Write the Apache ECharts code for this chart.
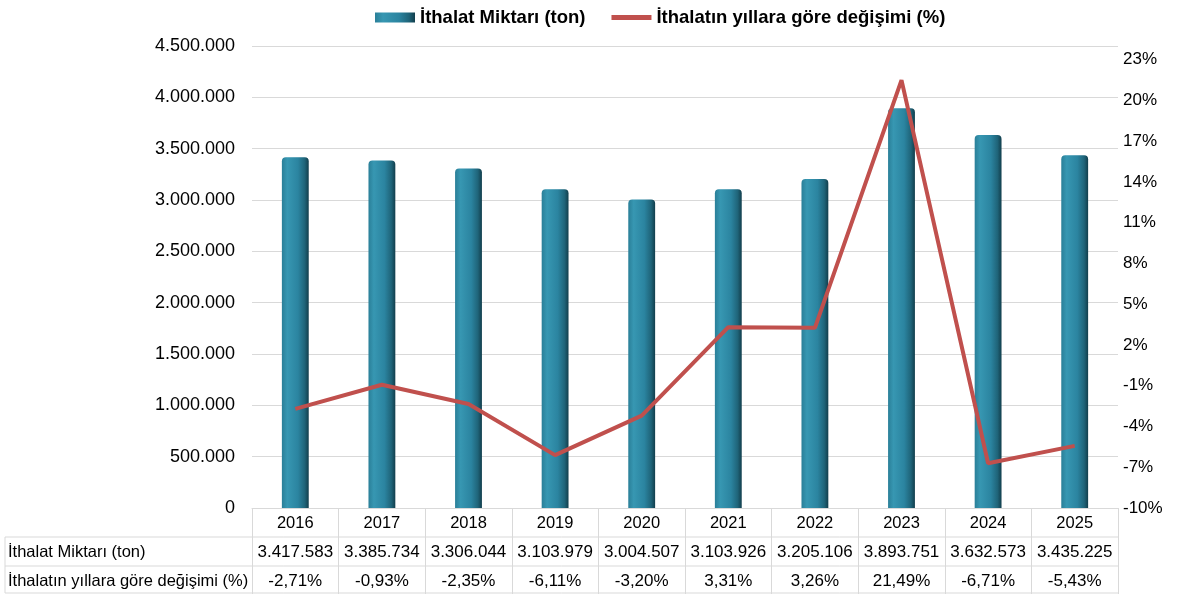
<!DOCTYPE html>
<html lang="tr">
<head>
    <meta charset="UTF-8">
    <title>İthalat</title>
    <style>
        html, body { margin: 0; padding: 0; background: #fff; }
        #main { width: 1191px; height: 594px; }
    </style>
</head>
<body>
<div id="main"></div>
<script src="https://cdn.jsdelivr.net/npm/echarts@6/dist/echarts.min.js"></script>
<script>
    // veriler
    var years = ['2016', '2017', '2018', '2019', '2020', '2021', '2022', '2023', '2024', '2025'];
    var amounts = [3417583, 3385734, 3306044, 3103979, 3004507, 3103926, 3205106, 3893751, 3632573, 3435225];
    var changes = [-2.71, -0.93, -2.35, -6.11, -3.20, 3.31, 3.26, 21.49, -6.71, -5.43];

    var barName = 'İthalat Miktarı (ton)';
    var lineName = 'İthalatın yıllara göre değişimi (%)';

    var FONT = 'Liberation Sans';
    var lineCol = '#d9d9d9';

    function dots(n) {
        return String(n).replace(/\B(?=(\d{3})+(?!\d))/g, '.');
    }
    function pct(n) {
        return n.toFixed(2).replace('.', ',') + '%';
    }

    var chart = echarts.init(document.getElementById('main'));

    var barColor = new echarts.graphic.LinearGradient(0, 0, 1, 0, [
        { offset: 0, color: '#2a7f98' },
        { offset: 0.2, color: '#3797b2' },
        { offset: 0.6, color: '#2b84a0' },
        { offset: 0.85, color: '#1f6479' },
        { offset: 1, color: '#123e4c' }
    ]);

    var option = {
        textStyle: { fontFamily: FONT },
        animation: false,
        legend: {
            top: 3,
            left: 370,
            itemWidth: 40,
            itemHeight: 10,
            itemGap: 26,
            textStyle: { fontFamily: FONT, fontSize: 18.5, fontWeight: 'bold', color: '#000' },
            data: [
                { name: barName, icon: 'rect' },
                { name: lineName, icon: 'path://M0,0 L40,0 L40,5 L0,5 Z' }
            ]
        },
        grid: { left: 252, right: 73, top: 46, bottom: 86, containLabel: false },
        xAxis: {
            type: 'category',
            data: years,
            boundaryGap: true,
            axisLine: { show: true, lineStyle: { color: lineCol } },
            axisTick: { show: true, length: 86, lineStyle: { color: lineCol } },
            axisLabel: {
                margin: 1,
                interval: 0,
                formatter: function (v, i) {
                    return '{y|' + v + '}\n{a|' + dots(amounts[i]) + '}\n{c|' + pct(changes[i]) + '}';
                },
                rich: {
                    y: { fontSize: 16.5, lineHeight: 29, color: '#000', fontFamily: FONT },
                    a: { fontSize: 17, lineHeight: 29, color: '#000', fontFamily: FONT },
                    c: { fontSize: 17, lineHeight: 29, color: '#000', fontFamily: FONT }
                }
            }
        },
        yAxis: [{
            type: 'value',
            min: 0,
            max: 4500000,
            interval: 500000,
            axisLine: { show: false },
            axisTick: { show: false },
            splitLine: { lineStyle: { color: lineCol } },
            axisLabel: {
                margin: 17,
                fontSize: 18,
                color: '#000',
                formatter: function (v) { return dots(v); }
            }
        }, {
            type: 'value',
            min: -10,
            max: 24,
            interval: 3,
            axisLine: { show: false },
            axisTick: { show: false },
            splitLine: { show: false },
            axisLabel: {
                margin: 5,
                fontSize: 17,
                color: '#000',
                showMaxLabel: false,
                formatter: function (v) { return v + '%'; }
            }
        }],
        series: [{
            name: barName,
            type: 'bar',
            data: amounts,
            barWidth: '31%',
            itemStyle: { color: barColor, borderRadius: [4, 4, 0, 0] }
        }, {
            name: lineName,
            type: 'line',
            yAxisIndex: 1,
            data: changes,
            symbol: 'none',
            lineStyle: { color: '#c0504d', width: 4 },
            itemStyle: { color: '#c0504d' }
        }],
        graphic: [
            { type: 'line', shape: { x1: 5, y1: 537, x2: 1118, y2: 537 }, style: { stroke: lineCol, lineWidth: 1 } },
            { type: 'line', shape: { x1: 5, y1: 566, x2: 1118, y2: 566 }, style: { stroke: lineCol, lineWidth: 1 } },
            { type: 'line', shape: { x1: 5, y1: 593, x2: 1118, y2: 593 }, style: { stroke: lineCol, lineWidth: 1 } },
            { type: 'line', shape: { x1: 5, y1: 537, x2: 5, y2: 593 }, style: { stroke: lineCol, lineWidth: 1 } },
            { type: 'text', x: 8, y: 552, style: { text: barName, fontFamily: FONT, fontSize: 16.5, fill: '#000', verticalAlign: 'middle' } },
            { type: 'text', x: 8, y: 581, style: { text: lineName, fontFamily: FONT, fontSize: 16.5, fill: '#000', verticalAlign: 'middle' } }
        ]
    };

    chart.setOption(option);
</script>
</body>
</html>
